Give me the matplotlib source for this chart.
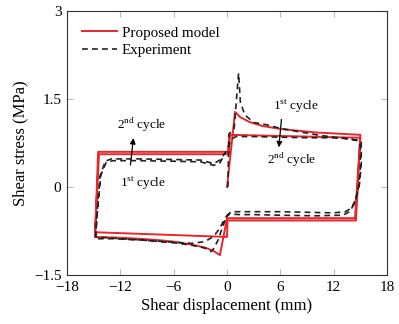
import numpy as np
from matplotlib import pyplot as plt

plt.rcParams['font.family'] = ['Liberation Serif', 'DejaVu Serif']
plt.rcParams['mathtext.fontset'] = 'custom'
plt.rcParams['mathtext.rm'] = 'Liberation Serif'

# proposed model, both cycles as one path
model_x = [0.0, 0.9, 1.5, 2.5, 4.0, 6.0, 8.0, 10.0, 12.5, 15.0, 14.4, 0.0,
           -0.8, -1.5, -2.5, -4.0, -6.0, -8.0, -10.0, -12.5, -14.85, -14.5, 0.1, 0.3,
           15.0, 14.5, 0.05, 0.0, -14.85, -14.4, 0.2, 0.3]
model_y = [0.0, 1.28, 1.19, 1.11, 1.04, 0.99, 0.96, 0.93, 0.91, 0.89, -0.53, -0.53,
           -1.16, -1.09, -1.03, -0.98, -0.93, -0.90, -0.88, -0.86, -0.85, 0.60, 0.60, 0.89,
           0.84, -0.57, -0.57, -0.85, -0.77, 0.56, 0.56, 0.89]

# experiment, both cycles as one path
exp_x = [0.1, 0.2, 0.8, 1.3, 1.5, 2.0, 3.0, 4.5, 6.0, 8.2, 10.5, 12.5, 14.6, 15.1,
         15.1, 14.9, 14.5, 14.0, 13.3, 12.0, 9.0, 6.0, 3.0, 1.5, 0.5, 0.0,
         -0.5, -1.0, -1.5, -1.8, -2.5, -4.0, -6.0, -9.0, -12.0, -14.8,
         -14.6, -14.3, -13.7, -13.0, -10.0, -6.0, -3.0, -1.5, -0.8, 0.0, 0.5,
         1.0, 3.0, 6.0, 9.0, 12.0, 13.5, 14.5, 15.0,
         15.0, 14.8, 14.4, 13.8, 13.0, 10.0, 6.0, 3.0, 1.5, 0.3, -0.2,
         -0.8, -1.5, -2.5, -4.0, -7.0, -10.0, -13.0, -14.8,
         -14.6, -14.2, -13.6, -12.8, -10.0, -6.0, -3.0, -1.5, -0.8, -0.2]
exp_y = [0.0, 0.9, 1.0, 1.94, 1.45, 1.23, 1.10, 1.06, 1.00, 0.94, 0.88, 0.84, 0.80, 0.78,
         0.40, 0.05, -0.20, -0.36, -0.42, -0.44, -0.43, -0.42, -0.42, -0.42, -0.42, -0.48,
         -0.68, -0.90, -1.05, -1.10, -1.04, -0.99, -0.95, -0.91, -0.88, -0.85,
         -0.40, 0.18, 0.44, 0.48, 0.48, 0.47, 0.46, 0.40, 0.46, 0.63, 0.82,
         0.86, 0.86, 0.85, 0.84, 0.84, 0.83, 0.80, 0.70,
         0.30, 0.00, -0.26, -0.42, -0.48, -0.49, -0.48, -0.47, -0.47, -0.46, -0.52,
         -0.70, -0.84, -0.93, -0.96, -0.93, -0.90, -0.88, -0.88,
         -0.45, 0.20, 0.42, 0.45, 0.45, 0.44, 0.43, 0.37, 0.41, 0.58]

fig = plt.figure(figsize=(3.99, 3.24), dpi=100)
ax = fig.add_axes([0.168, 0.151, 0.802, 0.815])

ax.plot(model_x, model_y, color='#e8262b', lw=1.4, label='Proposed model', zorder=3)
ax.plot(exp_x, exp_y, color='#222222', lw=1.2, ls=(0, (3.5, 2.5)), label='Experiment', zorder=4)

ax.set_xlim(-18, 18)
ax.set_ylim(-1.5, 3)
ax.set_xticks([-18, -12, -6, 0, 6, 12, 18])
ax.set_yticks([-1.5, 0, 1.5, 3])
ax.set_xticklabels(['\u221218', '\u221212', '\u22126', '0', '6', '12', '18'])
ax.set_yticklabels(['\u22121.5', '0', '1.5', '3'])
ax.tick_params(direction='in', top=True, right=True, length=4, width=0.8,
               color='#bbbbbb', labelsize=11, pad=4)
for s in ax.spines.values():
    s.set_color('#333333')
    s.set_linewidth(0.8)

ax.set_xlabel('Shear displacement (mm)', fontsize=12, labelpad=3)
ax.set_ylabel('Shear stress (MPa)', fontsize=12, labelpad=4)

ax.legend(loc='upper left', frameon=False, fontsize=10.8, handlelength=2.3,
          handletextpad=0.35, labelspacing=0.25, borderaxespad=0.6)

arrow = dict(arrowstyle='-|>', color='black', lw=0.9, mutation_scale=8)
ax.annotate('', xy=(-10.5, 0.88), xytext=(-10.9, 0.33), arrowprops=arrow)
ax.text(-9.6, 1.06, r'2$^{\mathrm{nd}}$ cycle', fontsize=9.5, ha='center', va='center')
ax.text(-9.4, 0.07, r'1$^{\mathrm{st}}$ cycle', fontsize=9.5, ha='center', va='center')
ax.annotate('', xy=(5.8, 0.63), xytext=(6.15, 1.2), arrowprops=arrow)
ax.text(7.8, 1.37, r'1$^{\mathrm{st}}$ cycle', fontsize=9.5, ha='center', va='center')
ax.text(7.3, 0.47, r'2$^{\mathrm{nd}}$ cycle', fontsize=9.5, ha='center', va='center')

fig.savefig('out.png', dpi=100)
